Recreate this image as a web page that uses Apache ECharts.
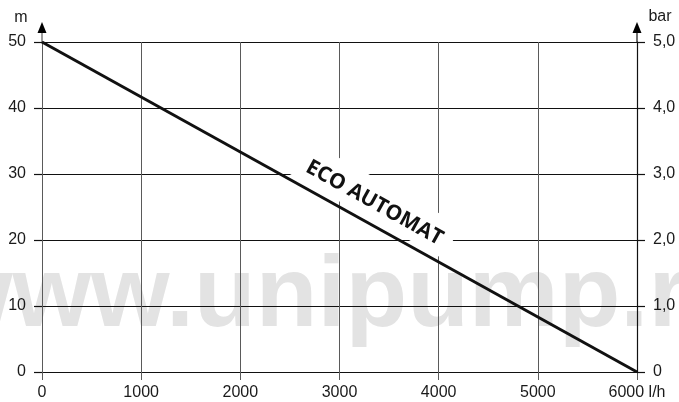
<!DOCTYPE html>
<html><head><meta charset="utf-8">
<script src="https://cdn.jsdelivr.net/npm/echarts@6/dist/echarts.min.js"></script>
<style>html,body{margin:0;padding:0;background:#fff}#c{width:679px;height:402px}</style>
</head><body><div id="c"></div>
<script>
// ---- data ----
const flowLh = [0, 6000];          // l/h
const headM = [50, 0];             // m
const flowTicks = [0, 1000, 2000, 3000, 4000, 5000, 6000];
const headTicks = [0, 10, 20, 30, 40, 50];
const barTicks = [0, 1, 2, 3, 4, 5];
const curveName = 'ECO AUTOMAT';
const leftUnit = 'm';
const rightUnit = 'bar';
const flowUnit = 'l/h';
const watermark = 'www.unipump.ru';

const FONT = '"Liberation Sans", Arial, sans-serif';
const GRAYV = '#5a5a5a';
const BLK = '#111';
const TXT = '#1a1a1a';

const chart = echarts.init(document.getElementById('c'), null, {renderer: 'canvas'});
const option = {
  animation: false,
  backgroundColor: '#fff',
  grid: {left: 42, right: 42, top: 42, bottom: 30, outerBoundsMode: 'none'},
  xAxis: {
    type: 'value', min: flowTicks[0], max: flowTicks[flowTicks.length - 1], interval: flowTicks[1] - flowTicks[0],
    axisLine: {show: true, lineStyle: {color: BLK, width: 1.2}},
    axisTick: {show: true, length: 8, lineStyle: {color: GRAYV, width: 1}},
    axisLabel: {margin: 13, color: TXT, fontSize: 16, fontFamily: FONT,
      formatter: v => v === flowTicks[flowTicks.length - 1] ? v + ' ' + flowUnit : String(v)},
    splitLine: {show: true, lineStyle: {color: GRAYV, width: 1}}
  },
  yAxis: [{
    type: 'value', position: 'left', min: headTicks[0], max: headTicks[headTicks.length - 1], interval: headTicks[1] - headTicks[0],
    axisLine: {show: true, lineStyle: {color: GRAYV, width: 1}},
    axisTick: {show: true, length: 8, lineStyle: {color: BLK, width: 1.2}},
    axisLabel: {margin: 16, color: TXT, fontSize: 16, fontFamily: FONT},
    splitLine: {show: true, lineStyle: {color: BLK, width: 1.2}}
  }, {
    type: 'value', position: 'right', min: barTicks[0], max: barTicks[barTicks.length - 1], interval: 1,
    z: 1,
    axisLine: {show: true, lineStyle: {color: BLK, width: 1.2}},
    axisTick: {show: true, length: 8, lineStyle: {color: BLK, width: 1.2}},
    axisLabel: {margin: 16, color: TXT, fontSize: 16, fontFamily: FONT,
      formatter: v => v === 0 ? '0' : v.toFixed(1).replace('.', ',')},
    splitLine: {show: false}
  }],
  series: [{
    type: 'line', name: curveName, xAxisIndex: 0, yAxisIndex: 0,
    data: flowLh.map((x, i) => [x, headM[i]]),
    symbol: 'none', z: 5,
    lineStyle: {color: BLK, width: 3}
  }]
};
chart.setOption(option);

// annotations placed through the chart's own scales
const pTL = chart.convertToPixel({gridIndex: 0}, [flowLh[0], headM[0]]);
const pBR = chart.convertToPixel({gridIndex: 0}, [flowLh[1], headM[1]]);
const ang = Math.atan2(pBR[1] - pTL[1], pBR[0] - pTL[0]);
const ux = Math.cos(ang), uy = Math.sin(ang);
const nx = Math.sin(ang), ny = -Math.cos(ang);
const mx = (pTL[0] + pBR[0]) / 2, my = (pTL[1] + pBR[1]) / 2;
const boxC = [mx + 28 * ux + 23.8 * nx, my + 28 * uy + 23.8 * ny];
const txtC = [mx + 28.5 * ux + 20.4 * nx, my + 28.5 * uy + 20.4 * ny];
const leftX = pTL[0], rightX = pBR[0], topY = pTL[1];

function arrow(x, col) {
  return [
    {type: 'line', z: 1, shape: {x1: x, y1: topY, x2: x, y2: topY - 9}, style: {stroke: col, lineWidth: 1.2}},
    {type: 'polygon', z: 1, shape: {points: [[x, topY - 20], [x - 4.5, topY - 9], [x + 4.5, topY - 9]]}, style: {fill: '#000'}}
  ];
}

chart.setOption({
  graphic: [
    {type: 'text', z: -1, x: -66, y: 298,
      style: {text: watermark, fill: '#e3e3e3', font: 'bold 101px "Liberation Sans", Arial, sans-serif',
        textAlign: 'left', textVerticalAlign: 'middle'}},
    {type: 'rect', z: 1, x: boxC[0], y: boxC[1], rotation: -ang,
      shape: {x: -87.5, y: -19, width: 175, height: 38}, style: {fill: '#fff'}},
    {type: 'text', z: 6, x: txtC[0], y: txtC[1], rotation: -ang,
      style: {text: curveName, fill: '#111', font: 'bold 21px "Open Sans", sans-serif',
        textAlign: 'center', textVerticalAlign: 'middle'}},
    ...arrow(leftX, GRAYV),
    ...arrow(rightX, BLK),
    {type: 'text', z: 1, x: leftX - 21, y: topY - 24,
      style: {text: leftUnit, fill: TXT, font: '16px "Liberation Sans", Arial, sans-serif', textAlign: 'center', textVerticalAlign: 'middle'}},
    {type: 'text', z: 1, x: rightX + 23, y: topY - 25,
      style: {text: rightUnit, fill: TXT, font: '16px "Liberation Sans", Arial, sans-serif', textAlign: 'center', textVerticalAlign: 'middle'}}
  ]
});
</script>
</body></html>
